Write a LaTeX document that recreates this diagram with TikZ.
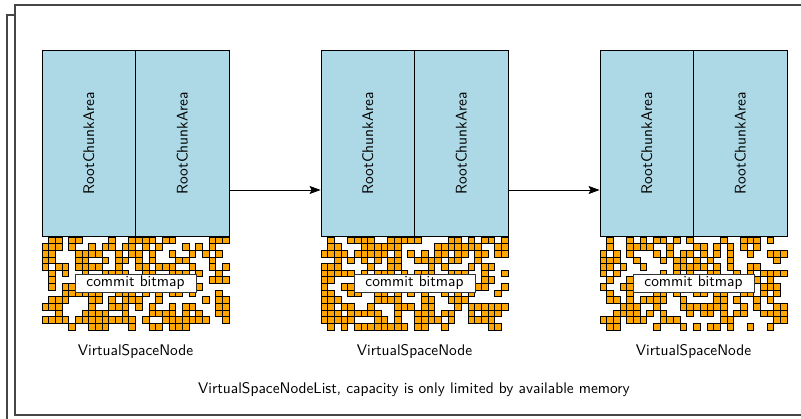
\documentclass[tikz,border=0pt]{standalone}
\usepackage{fontspec}
\setsansfont{lmsans10-regular.otf}
\usepackage{graphicx}
\usetikzlibrary{arrows.meta}
\definecolor{chunkblue}{RGB}{173,216,230}
\definecolor{bitorange}{RGB}{255,165,0}
\definecolor{framegray}{RGB}{70,70,70}
\begin{document}
\begin{tikzpicture}[x=1pt,y=-1pt,
  font=\fontsize{15.4}{18}\selectfont\sffamily,
  frame/.style={draw=framegray,line width=1.3pt},
  area/.style={draw=black,fill=chunkblue,line width=0.8pt,inner sep=0pt,
    minimum width=93.5pt,minimum height=186pt},
  bit/.style={draw=black,fill=bitorange,line width=0.7pt},
  bitlabel/.style={draw=black!80,fill=white,line width=0.6pt,inner sep=0pt,
    minimum width=121pt,minimum height=18pt},
  link/.style={-{Stealth[length=11pt,width=8pt,inset=2pt]},line width=0.8pt}]
\useasboundingbox (0,0) rectangle (801,419);

% stacked frame of the node list
\begin{scope}
  \clip (0,0) rectangle (801,419);
  \draw[frame] (7,15) rectangle (830,440);
  \draw[frame,fill=white] (15,5) rectangle (825,415);
\end{scope}

% one commit bitmap per virtual space node
\pgfmathsetseed{7}
\foreach \k in {0,1,2}{
  \foreach \c in {0,...,27}{
    \foreach \r in {0,...,13}{
      \pgfmathtruncatemacro\on{rnd<0.5}
      \ifnum\on=1
        \draw[bit] ({42+279*\k+\c*6.68},{237+\r*6.64}) rectangle ++(6.68,6.64);
      \fi
    }
  }
}

% the virtual space nodes
\foreach \k in {0,1,2}{
  \node[area] (L\k) at ({88.75+279*\k},143) {\rotatebox{90}{RootChunkArea}};
  \node[area] (R\k) at ({182.25+279*\k},143) {\rotatebox{90}{RootChunkArea}};
  \node[bitlabel] (B\k) at ({135.5+279*\k},283) {commit bitmap};
  \node (V\k) at ({135.5+279*\k},351) {VirtualSpaceNode};
}

\draw[link] ([yshift=-47pt]R0.east) -- ([yshift=-47pt]L1.west);
\draw[link] ([yshift=-47pt]R1.east) -- ([yshift=-47pt]L2.west);

\node (list) at (414,390) {VirtualSpaceNodeList, capacity is only limited by available memory};
\end{tikzpicture}
\end{document}
